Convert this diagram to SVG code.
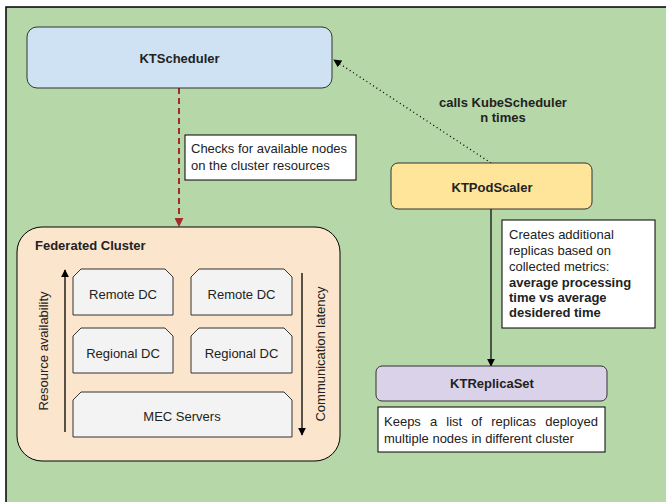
<svg xmlns="http://www.w3.org/2000/svg" width="668" height="502" viewBox="0 0 668 502">
<defs>
<style>
text{font-family:"Liberation Sans",Arial,sans-serif;font-size:13px;fill:#222}
.b{font-weight:bold}
.c{text-anchor:middle}
.node{stroke:#333;stroke-width:1}
.note{fill:#fff;stroke:#000;stroke-width:1}
</style>
<marker id="ah" viewBox="0 0 10 10" refX="9" refY="5" markerWidth="8" markerHeight="8" markerUnits="userSpaceOnUse" orient="auto"><path d="M0,0 L10,5 L0,10 z" fill="#000"/></marker>
<marker id="ahr" viewBox="0 0 10 10" refX="9" refY="5" markerWidth="9" markerHeight="9" markerUnits="userSpaceOnUse" orient="auto"><path d="M0,0 L10,5 L0,10 z" fill="#a52a2a"/></marker>
</defs>
<rect x="0" y="0" width="668" height="502" fill="#fff"/>
<g id="frame">
<rect x="6" y="7" width="660" height="500" fill="#b6d7a8"/>
<path d="M6,502 V7 H666" fill="none" stroke="#000" stroke-width="1.5"/>
</g>
<g id="connectors">
<line x1="179" y1="88" x2="179" y2="226" stroke="#a52a2a" stroke-width="2" stroke-dasharray="6 4" marker-end="url(#ahr)"/>
<line x1="491" y1="163" x2="334" y2="60" stroke="#000" stroke-width="1.3" stroke-dasharray="1 3" marker-end="url(#ah)"/>
<line x1="491" y1="209" x2="491" y2="366" stroke="#000" stroke-width="1.2" marker-end="url(#ah)"/>
</g>
<g id="ktscheduler">
<rect class="node" x="27" y="27" width="305" height="61" rx="10" fill="#cfe2f3"/>
<text class="b c" x="179.5" y="62.5">KTScheduler</text>
</g>
<g id="calls-label">
<text class="b c" x="503" y="106.5">calls KubeScheduler</text>
<text class="b c" x="503" y="122">n times</text>
</g>
<g id="checks-note">
<rect class="note" x="185" y="135" width="171" height="45"/>
<text x="191" y="153">Checks for available nodes</text>
<text x="191" y="170">on the cluster resources</text>
</g>
<g id="ktpodscaler">
<rect class="node" x="391" y="163" width="201" height="46" rx="7" fill="#ffe599"/>
<text class="b c" x="492" y="191.5">KTPodScaler</text>
</g>
<g id="creates-note">
<rect class="note" x="502" y="220" width="153" height="108"/>
<text x="509" y="238.5">Creates additional</text>
<text x="509" y="255">replicas based on</text>
<text x="509" y="270.5">collected metrics:</text>
<text class="b" x="509" y="286.5">average processing</text>
<text class="b" x="509" y="301.5">time vs average</text>
<text class="b" x="509" y="317">desidered time</text>
</g>
<g id="ktreplicaset">
<rect class="node" x="376" y="366" width="231" height="35" rx="6" fill="#d9d2e9"/>
<text class="b c" x="492" y="387.5">KTReplicaSet</text>
</g>
<g id="keeps-note">
<rect class="note" x="378" y="407" width="227" height="45"/>
<text x="384" y="425.5" word-spacing="5.5">Keeps a list of replicas deployed</text>
<text x="384" y="442.5">multiple nodes in different cluster</text>
</g>
<g id="federated-cluster">
<rect x="17" y="227" width="323" height="234" rx="25" fill="#fce5cd" stroke="#000" stroke-width="1"/>
<text class="b" x="35" y="249.5">Federated Cluster</text>
<line x1="65" y1="432" x2="65" y2="270" stroke="#000" stroke-width="1.3" marker-end="url(#ah)"/>
<text class="c" transform="translate(47.5,351) rotate(-90)">Resource availability</text>
<line x1="302" y1="273" x2="302" y2="435" stroke="#000" stroke-width="1.3" marker-end="url(#ah)"/>
<text class="c" transform="translate(324.5,354) rotate(-90)">Communication latency</text>
</g>
<g id="remote-dc-1">
<path class="node" d="M81,269 H165 L173,277 V315 H73 V277 Z" fill="#f3f3f3"/>
<text class="c" x="123" y="298.5">Remote DC</text>
</g>
<g id="remote-dc-2">
<path class="node" d="M199,269 H284 L292,277 V315 H191 V277 Z" fill="#f3f3f3"/>
<text class="c" x="241.5" y="298.5">Remote DC</text>
</g>
<g id="regional-dc-1">
<path class="node" d="M81,328 H165 L173,336 V373 H73 V336 Z" fill="#f3f3f3"/>
<text class="c" x="123" y="357.5">Regional DC</text>
</g>
<g id="regional-dc-2">
<path class="node" d="M199,328 H284 L292,336 V373 H191 V336 Z" fill="#f3f3f3"/>
<text class="c" x="241.5" y="357.5">Regional DC</text>
</g>
<g id="mec-servers">
<path class="node" d="M81,392 H284 L292,400 V437 H73 V400 Z" fill="#f3f3f3"/>
<text class="c" x="182" y="420.5">MEC Servers</text>
</g>
</svg>
